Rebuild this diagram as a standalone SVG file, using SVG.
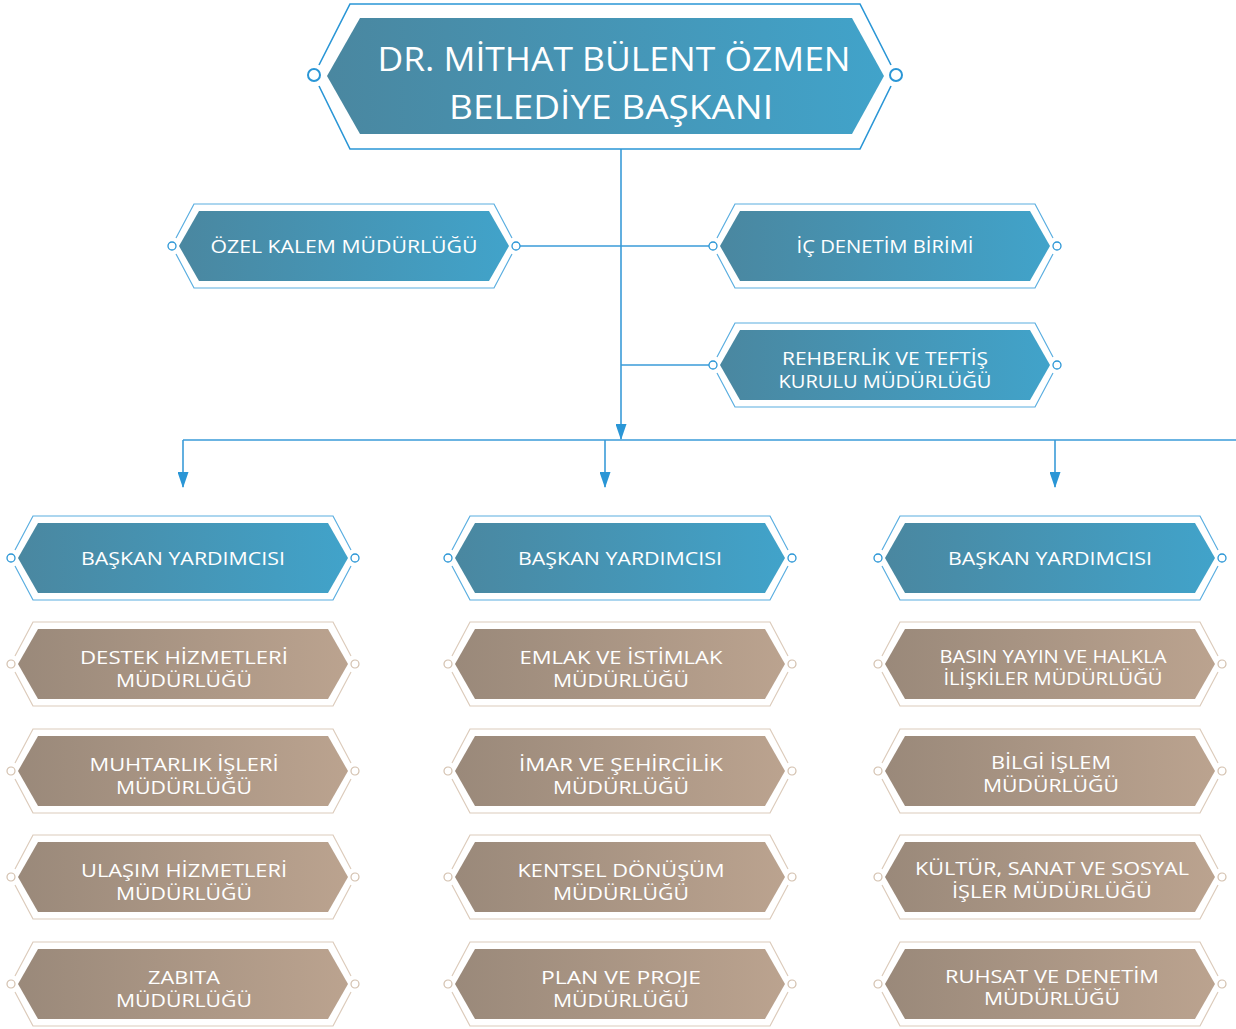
<svg xmlns="http://www.w3.org/2000/svg" width="1236" height="1029" viewBox="0 0 1236 1029">
<defs>
<linearGradient id="gBlue" x1="0" y1="0" x2="1" y2="0">
<stop offset="0" stop-color="#4a87a0"/><stop offset="1" stop-color="#41a3ca"/>
</linearGradient>
<linearGradient id="gBrown" x1="0" y1="0" x2="1" y2="0">
<stop offset="0" stop-color="#9a897a"/><stop offset="1" stop-color="#bba38f"/>
</linearGradient>
<marker id="arr" viewBox="0 0 16 11" refX="15" refY="5.5" markerWidth="16" markerHeight="11" markerUnits="userSpaceOnUse" orient="auto">
<path d="M0,0 L16,5.5 L0,11 Z" fill="#2a96d6"/>
</marker>
<g id="hexBlue">
<polygon points="-165,0 -145,-35 145,-35 165,0 145,35 -145,35" fill="url(#gBlue)"/>
<polyline points="-168,-8 -150,-42 150,-42 168,-8" fill="none" stroke="#5aaee0" stroke-width="1.2"/>
<polyline points="-168,8 -150,42 150,42 168,8" fill="none" stroke="#5aaee0" stroke-width="1.2"/>
<circle cx="-172" cy="0" r="4" fill="#fff" stroke="#2a96d6" stroke-width="1.3"/>
<circle cx="172" cy="0" r="4" fill="#fff" stroke="#2a96d6" stroke-width="1.3"/>
</g>
<g id="hexBrown">
<polygon points="-165,0 -145,-35 145,-35 165,0 145,35 -145,35" fill="url(#gBrown)"/>
<polyline points="-168,-8 -150,-42 150,-42 168,-8" fill="none" stroke="#dccbbb" stroke-width="1.2"/>
<polyline points="-168,8 -150,42 150,42 168,8" fill="none" stroke="#dccbbb" stroke-width="1.2"/>
<circle cx="-172" cy="0" r="4" fill="#fff" stroke="#d3c0ae" stroke-width="1.2"/>
<circle cx="172" cy="0" r="4" fill="#fff" stroke="#d3c0ae" stroke-width="1.2"/>
</g>
</defs>
<style>
.t{font-family:"Open Sans","Liberation Sans",sans-serif;font-size:18px;fill:#ffffff;text-anchor:middle;}
.big{font-family:"Open Sans","Liberation Sans",sans-serif;font-size:32px;fill:#ffffff;text-anchor:middle;}
.c{fill:none;stroke:#3a9bd8;stroke-width:1.6;}
</style>
<rect width="1236" height="1029" fill="#ffffff"/>

<g id="connectors">
<line class="c" x1="621" y1="149" x2="621" y2="439" marker-end="url(#arr)"/>
<line class="c" x1="183" y1="440" x2="1236" y2="440"/>
<line class="c" x1="183" y1="440" x2="183" y2="487" marker-end="url(#arr)"/>
<line class="c" x1="605" y1="440" x2="605" y2="487" marker-end="url(#arr)"/>
<line class="c" x1="1055" y1="440" x2="1055" y2="487" marker-end="url(#arr)"/>
<line class="c" x1="520" y1="246" x2="709" y2="246"/>
<line class="c" x1="621" y1="365" x2="709" y2="365"/>
</g>

<g id="baskan">
<polygon points="327,76 360,18 852,18 884,76 852,134 360,134" fill="url(#gBlue)"/>
<polyline points="319,65 350,4 860,4 891,65" fill="none" stroke="#2a96d6" stroke-width="1.6"/>
<polyline points="319,86 350,149 860,149 891,86" fill="none" stroke="#2a96d6" stroke-width="1.6"/>
<circle cx="314" cy="75" r="6" fill="#fff" stroke="#2a96d6" stroke-width="2"/>
<circle cx="896" cy="75" r="6" fill="#fff" stroke="#2a96d6" stroke-width="2"/>
<text class="big" x="614" y="71" textLength="473" lengthAdjust="spacingAndGlyphs">DR. MİTHAT BÜLENT ÖZMEN</text>
<text class="big" x="611" y="119" textLength="324" lengthAdjust="spacingAndGlyphs">BELEDİYE BAŞKANI</text>
</g>

<g id="ozel-kalem" transform="translate(344,246)">
<use href="#hexBlue"/>
<text class="t" x="0" y="7" textLength="267" lengthAdjust="spacingAndGlyphs">ÖZEL KALEM MÜDÜRLÜĞÜ</text>
</g>
<g id="ic-denetim" transform="translate(885,246)">
<use href="#hexBlue"/>
<text class="t" x="0" y="7" textLength="177" lengthAdjust="spacingAndGlyphs">İÇ DENETİM BİRİMİ</text>
</g>
<g id="rehberlik" transform="translate(885,365)">
<use href="#hexBlue"/>
<text class="t" x="0" y="0" textLength="206" lengthAdjust="spacingAndGlyphs">REHBERLİK VE TEFTİŞ</text>
<text class="t" x="0" y="23" textLength="213" lengthAdjust="spacingAndGlyphs">KURULU MÜDÜRLÜĞÜ</text>
</g>

<g id="by1" transform="translate(183,558)">
<use href="#hexBlue"/>
<text class="t" x="0" y="7" textLength="204" lengthAdjust="spacingAndGlyphs">BAŞKAN YARDIMCISI</text>
</g>
<g id="by2" transform="translate(620,558)">
<use href="#hexBlue"/>
<text class="t" x="0" y="7" textLength="204" lengthAdjust="spacingAndGlyphs">BAŞKAN YARDIMCISI</text>
</g>
<g id="by3" transform="translate(1050,558)">
<use href="#hexBlue"/>
<text class="t" x="0" y="7" textLength="204" lengthAdjust="spacingAndGlyphs">BAŞKAN YARDIMCISI</text>
</g>

<g id="destek" transform="translate(183,664)">
<use href="#hexBrown"/>
<text class="t" x="1" y="0" textLength="208" lengthAdjust="spacingAndGlyphs">DESTEK HİZMETLERİ</text>
<text class="t" x="1" y="23" textLength="136" lengthAdjust="spacingAndGlyphs">MÜDÜRLÜĞÜ</text>
</g>
<g id="muhtarlik" transform="translate(183,771)">
<use href="#hexBrown"/>
<text class="t" x="1" y="0" textLength="189" lengthAdjust="spacingAndGlyphs">MUHTARLIK İŞLERİ</text>
<text class="t" x="1" y="23" textLength="136" lengthAdjust="spacingAndGlyphs">MÜDÜRLÜĞÜ</text>
</g>
<g id="ulasim" transform="translate(183,877)">
<use href="#hexBrown"/>
<text class="t" x="1" y="0" textLength="206" lengthAdjust="spacingAndGlyphs">ULAŞIM HİZMETLERİ</text>
<text class="t" x="1" y="23" textLength="136" lengthAdjust="spacingAndGlyphs">MÜDÜRLÜĞÜ</text>
</g>
<g id="zabita" transform="translate(183,984)">
<use href="#hexBrown"/>
<text class="t" x="1" y="0" textLength="72" lengthAdjust="spacingAndGlyphs">ZABITA</text>
<text class="t" x="1" y="23" textLength="136" lengthAdjust="spacingAndGlyphs">MÜDÜRLÜĞÜ</text>
</g>

<g id="emlak" transform="translate(620,664)">
<use href="#hexBrown"/>
<text class="t" x="1" y="0" textLength="203" lengthAdjust="spacingAndGlyphs">EMLAK VE İSTİMLAK</text>
<text class="t" x="1" y="23" textLength="136" lengthAdjust="spacingAndGlyphs">MÜDÜRLÜĞÜ</text>
</g>
<g id="imar" transform="translate(620,771)">
<use href="#hexBrown"/>
<text class="t" x="1" y="0" textLength="204" lengthAdjust="spacingAndGlyphs">İMAR VE ŞEHİRCİLİK</text>
<text class="t" x="1" y="23" textLength="136" lengthAdjust="spacingAndGlyphs">MÜDÜRLÜĞÜ</text>
</g>
<g id="kentsel" transform="translate(620,877)">
<use href="#hexBrown"/>
<text class="t" x="1" y="0" textLength="207" lengthAdjust="spacingAndGlyphs">KENTSEL DÖNÜŞÜM</text>
<text class="t" x="1" y="23" textLength="136" lengthAdjust="spacingAndGlyphs">MÜDÜRLÜĞÜ</text>
</g>
<g id="plan" transform="translate(620,984)">
<use href="#hexBrown"/>
<text class="t" x="1" y="0" textLength="160" lengthAdjust="spacingAndGlyphs">PLAN VE PROJE</text>
<text class="t" x="1" y="23" textLength="136" lengthAdjust="spacingAndGlyphs">MÜDÜRLÜĞÜ</text>
</g>

<g id="basin" transform="translate(1050,664)">
<use href="#hexBrown"/>
<text class="t" x="3" y="-1" textLength="227" lengthAdjust="spacingAndGlyphs">BASIN YAYIN VE HALKLA</text>
<text class="t" x="3" y="21" textLength="219" lengthAdjust="spacingAndGlyphs">İLİŞKİLER MÜDÜRLÜĞÜ</text>
</g>
<g id="bilgi" transform="translate(1050,771)">
<use href="#hexBrown"/>
<text class="t" x="1" y="-2" textLength="120" lengthAdjust="spacingAndGlyphs">BİLGİ İŞLEM</text>
<text class="t" x="1" y="21" textLength="136" lengthAdjust="spacingAndGlyphs">MÜDÜRLÜĞÜ</text>
</g>
<g id="kultur" transform="translate(1050,877)">
<use href="#hexBrown"/>
<text class="t" x="2" y="-2" textLength="274" lengthAdjust="spacingAndGlyphs">KÜLTÜR, SANAT VE SOSYAL</text>
<text class="t" x="2" y="21" textLength="200" lengthAdjust="spacingAndGlyphs">İŞLER MÜDÜRLÜĞÜ</text>
</g>
<g id="ruhsat" transform="translate(1050,984)">
<use href="#hexBrown"/>
<text class="t" x="2" y="-1" textLength="214" lengthAdjust="spacingAndGlyphs">RUHSAT VE DENETİM</text>
<text class="t" x="2" y="21" textLength="136" lengthAdjust="spacingAndGlyphs">MÜDÜRLÜĞÜ</text>
</g>
</svg>
